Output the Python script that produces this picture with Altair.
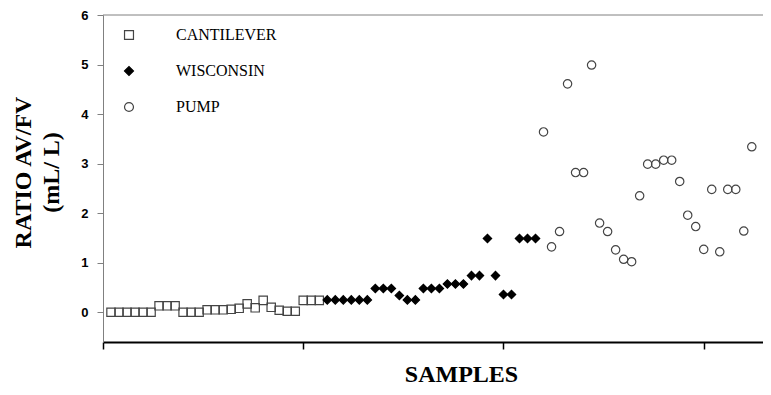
import altair as alt
import pandas as pd

series_names = ["CANTILEVER", "WISCONSIN", "PUMP"]

cantilever_samples = list(range(1, 28))
cantilever_ratio = [0, 0, 0, 0, 0, 0, 0.13, 0.13, 0.13, 0, 0, 0, 0.05, 0.05, 0.05,
                    0.06, 0.08, 0.17, 0.09, 0.24, 0.10, 0.04, 0.02, 0.02, 0.24, 0.24, 0.24]

wisconsin_samples = list(range(28, 55))
wisconsin_ratio = [0.25, 0.25, 0.25, 0.25, 0.25, 0.25, 0.48, 0.48, 0.48, 0.34, 0.25, 0.25,
                   0.48, 0.48, 0.48, 0.57, 0.57, 0.57, 0.74, 0.74, 1.49, 0.74, 0.36, 0.36,
                   1.49, 1.49, 1.49]

pump_samples = list(range(55, 82))
pump_ratio = [3.64, 1.32, 1.63, 4.61, 2.82, 2.82, 4.99, 1.80, 1.63, 1.26, 1.07, 1.02,
              2.35, 2.99, 2.99, 3.07, 3.07, 2.64, 1.96, 1.73, 1.27, 2.48, 1.22, 2.48,
              2.48, 1.64, 3.34]

y_ticks = [0, 1, 2, 3, 4, 5, 6]
x_ticks = [0, 25, 50, 75]

rows = []
for name, xs, ys in [(series_names[0], cantilever_samples, cantilever_ratio),
                     (series_names[1], wisconsin_samples, wisconsin_ratio),
                     (series_names[2], pump_samples, pump_ratio)]:
    for x, y in zip(xs, ys):
        rows.append({"sample": x, "ratio": y, "type": name})
df = pd.DataFrame(rows)

leg = alt.Legend(title=None, orient="none", legendX=18, legendY=12,
                 labelFont="Liberation Serif", labelFontSize=16, labelColor="black",
                 labelOffset=39, rowPadding=20, symbolSize=80, symbolStrokeWidth=1.2,
                 padding=0)

x_enc = alt.X("sample:Q",
              scale=alt.Scale(domain=[0, 82.4], nice=False, zero=False),
              axis=alt.Axis(values=x_ticks, labels=False, grid=False,
                            domainColor="black", domainWidth=2,
                            tickColor="black", tickSize=7, tickWidth=1.5,
                            title="SAMPLES", titleFont="Liberation Serif",
                            titleFontSize=24, titleFontWeight="bold", titleColor="black",
                            titleX=358, titleY=39, titleAlign="center",
                            titleBaseline="alphabetic"))
y_enc = alt.Y("ratio:Q",
              scale=alt.Scale(domain=[-0.6, 6], nice=False, zero=False),
              axis=alt.Axis(values=y_ticks, grid=False, format="d",
                            domainColor="#808080", tickColor="#808080", tickSize=6,
                            labelFont="Liberation Sans", labelFontSize=13,
                            labelFontWeight="bold", labelColor="black", labelPadding=9,
                            title=["RATIO AV/FV", "(mL/ L)"],
                            titleFont="Liberation Serif", titleFontSize=24,
                            titleFontWeight="bold", titleColor="black",
                            titleLineHeight=28, titleX=-80, titleY=157,
                            titleAngle=-90, titleAlign="center", titleBaseline="middle"))

points = alt.Chart(df).mark_point(filled=True, size=70, strokeWidth=1.2, opacity=1).encode(
    x=x_enc,
    y=y_enc,
    shape=alt.Shape("type:N", scale=alt.Scale(domain=series_names,
                                              range=["square", "diamond", "circle"]), legend=leg),
    fill=alt.Fill("type:N", scale=alt.Scale(domain=series_names,
                                            range=["transparent", "black", "transparent"]), legend=leg),
    stroke=alt.Stroke("type:N", scale=alt.Scale(domain=series_names,
                                                range=["#444444", "black", "#444444"]), legend=leg),
)

top_df = pd.DataFrame({"y": [6]})
top_line = alt.Chart(top_df).mark_rule(color="#808080", strokeWidth=1).encode(
    y=alt.Y("y:Q", scale=alt.Scale(domain=[-0.6, 6], nice=False, zero=False))
)

chart = alt.layer(top_line, points).properties(
    width=660, height=327,
    padding={"left": 95, "top": 7, "right": 0, "bottom": 45},
    autosize=alt.AutoSizeParams(type="none"),
    background="white",
).configure_view(stroke=None)

chart.save("out.html", embed_options={"renderer": "svg", "actions": False})
